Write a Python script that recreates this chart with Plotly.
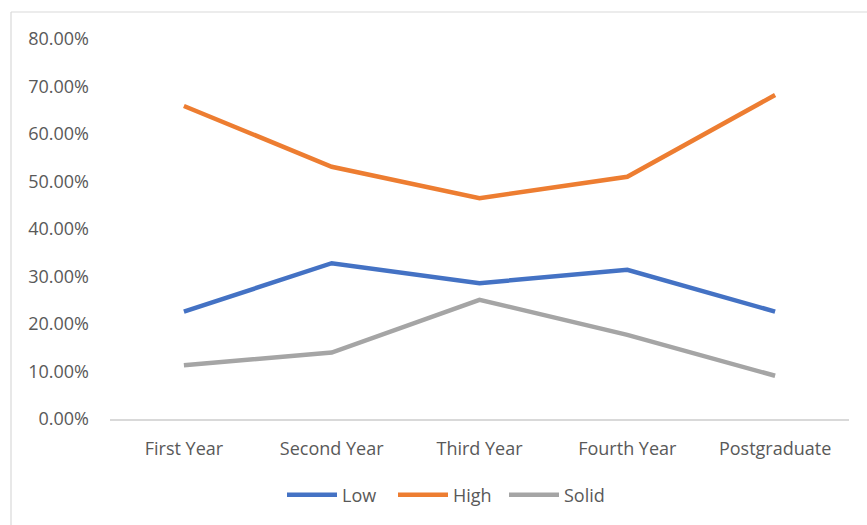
import plotly.graph_objects as go

categories = ["First Year", "Second Year", "Third Year", "Fourth Year", "Postgraduate"]
low = [0.226, 0.328, 0.286, 0.314, 0.226]
high = [0.659, 0.531, 0.465, 0.510, 0.682]
solid = [0.113, 0.140, 0.251, 0.177, 0.091]
y_ticks = [0.0, 0.1, 0.2, 0.3, 0.4, 0.5, 0.6, 0.7, 0.8]

series = [
    ("Low", low, "#4472C4"),
    ("High", high, "#ED7D31"),
    ("Solid", solid, "#A5A5A5"),
]

fig = go.Figure()
for name, vals, color in series:
    fig.add_trace(go.Scatter(
        x=categories, y=vals, name=name, mode="lines",
        line=dict(color=color, width=4.5),
    ))

W, H = 867, 525
L, R, T, B = 110, 18, 39, 106
pw, ph = W - L - R, H - T - B

def px_x(x):
    return (x - L) / pw

def px_y(y):
    return (H - B - y) / ph

fig.update_layout(
    width=W, height=H,
    margin=dict(l=L, r=R, t=T, b=B, autoexpand=False),
    paper_bgcolor="white", plot_bgcolor="white",
    font=dict(family="Open Sans, sans-serif", size=18, color="#595959"),
    showlegend=True,
    legend=dict(
        orientation="h", x=px_x(282), xanchor="left", y=px_y(495), yanchor="middle",
        font=dict(size=18, color="#595959"), itemwidth=50,
        tracegroupgap=0, entrywidthmode="pixels", entrywidth=46,
    ),
    xaxis=dict(
        range=[-0.5, 4.5], automargin=False,
        showgrid=False, showline=True, linecolor="#D9D9D9", linewidth=1.5,
        ticks="", ticklabelstandoff=13, fixedrange=True,
    ),
    yaxis=dict(
        range=[0, 0.8], tickvals=y_ticks, tickformat=".2%", automargin=False,
        showgrid=False, zeroline=False, showline=False,
        ticks="", ticklabelstandoff=20,
    ),
    shapes=[
        dict(type="line", xref="paper", yref="paper",
             x0=px_x(11), x1=px_x(W), y0=px_y(12), y1=px_y(12),
             line=dict(color="#D9D9D9", width=1.2)),
        dict(type="line", xref="paper", yref="paper",
             x0=px_x(11), x1=px_x(11), y0=px_y(12), y1=px_y(H),
             line=dict(color="#D9D9D9", width=1.2)),
    ],
)

fig.write_html("out.html")
